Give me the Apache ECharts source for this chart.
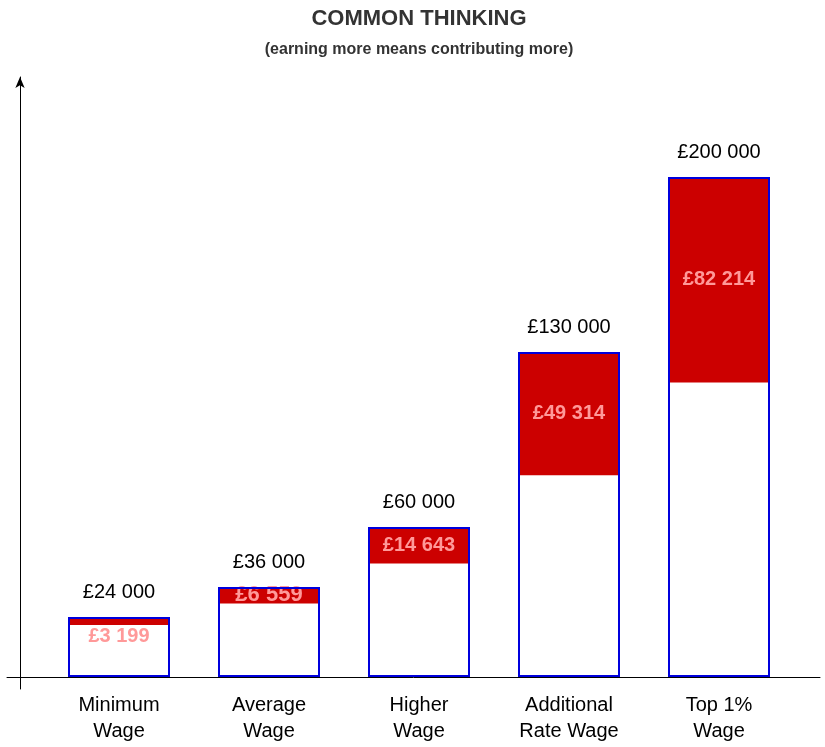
<!DOCTYPE html>
<html>
<head>
<meta charset="utf-8">
<script src="https://cdn.jsdelivr.net/npm/echarts@6/dist/echarts.min.js"></script>
<style>
  html, body { margin: 0; padding: 0; background: #fff; }
  #chart { width: 825px; height: 747px; }
</style>
</head>
<body>
<div id="chart"></div>
<script>
// wage bands and what each one pays in
var categories = ['Minimum\nWage', 'Average\nWage', 'Higher\nWage', 'Additional\nRate Wage', 'Top 1%\nWage'];
var wages = [24000, 36000, 60000, 130000, 200000];
var taxes = [3199, 6559, 14643, 49314, 82214];

var font = 'Liberation Sans, Arial, sans-serif';

function pounds(v) {
    return '£' + String(v).replace(/\B(?=(\d{3})+(?!\d))/g, ' ');
}

var netData = wages.map(function (w, i) { return w - taxes[i]; });

var taxData = taxes.map(function (t, i) {
    var item = { value: t };
    if (i == 0) {
        // red strip too thin, the figure sits just under it
        item.label = { position: 'bottom', distance: 1 };
    }
    else if (i == 1) {
        item.label = { fontSize: 22 };
    }
    return item;
});

var chart = echarts.init(document.getElementById('chart'));

chart.setOption({
    animation: false,
    title: [
        {
            text: 'COMMON THINKING',
            left: 414, top: 3, textAlign: 'center',
            textStyle: { fontFamily: font, fontSize: 22, fontWeight: 'bold', color: '#333' }
        },
        {
            text: '(earning more means contributing more)',
            left: 414, top: 37, textAlign: 'center',
            textStyle: { fontFamily: font, fontSize: 16, fontWeight: 'bold', color: '#333' }
        }
    ],
    grid: [
        { left: 44, width: 750, top: 77, bottom: 70 },   // bars
        { left: 7, right: 5, top: 77, bottom: 70 },      // long horizontal axis line
        { left: 20, width: 10, top: 77, bottom: 58 }     // vertical axis with arrow
    ],
    xAxis: [
        {
            gridIndex: 0,
            type: 'category',
            data: categories,
            axisLine: { show: false },
            axisTick: { show: false },
            axisLabel: {
                fontFamily: font, fontSize: 20, color: '#000',
                lineHeight: 26, margin: 15, interval: 0
            }
        },
        {
            gridIndex: 1,
            type: 'value',
            axisLine: { show: true, lineStyle: { color: '#000', width: 1 } },
            axisTick: { show: false },
            axisLabel: { show: false },
            splitLine: { show: false }
        },
        {
            gridIndex: 2,
            type: 'value',
            show: false
        }
    ],
    yAxis: [
        {
            gridIndex: 0,
            type: 'value',
            min: 0, max: 240000,
            show: false
        },
        {
            gridIndex: 1,
            type: 'value',
            show: false
        },
        {
            gridIndex: 2,
            type: 'value',
            axisLine: {
                show: true,
                symbol: ['none', 'arrow'],
                symbolSize: [7, 11],
                lineStyle: { color: '#000', width: 1 }
            },
            axisTick: { show: false },
            axisLabel: { show: false },
            splitLine: { show: false }
        }
    ],
    series: [
        {
            name: 'net',
            type: 'bar',
            stack: 'wage',
            barWidth: 102,
            data: netData,
            itemStyle: { color: '#fff' },
            silent: true
        },
        {
            name: 'tax',
            type: 'bar',
            stack: 'wage',
            barWidth: 102,
            data: taxData,
            itemStyle: { color: '#cc0000' },
            label: {
                show: true,
                position: 'inside',
                fontFamily: font,
                fontSize: 20,
                fontWeight: 'bold',
                color: '#ff9999',
                formatter: function (p) { return pounds(p.value); }
            }
        },
        {
            name: 'wage',
            type: 'bar',
            barWidth: 102,
            barGap: '-100%',
            data: wages,
            z: 3,
            itemStyle: { color: 'rgba(0,0,0,0)', borderColor: '#0000dd', borderWidth: 2 },
            label: {
                show: true,
                position: 'top',
                distance: 15,
                fontFamily: font,
                fontSize: 20,
                color: '#000',
                formatter: function (p) { return pounds(p.value); }
            }
        }
    ]
});
</script>
</body>
</html>
